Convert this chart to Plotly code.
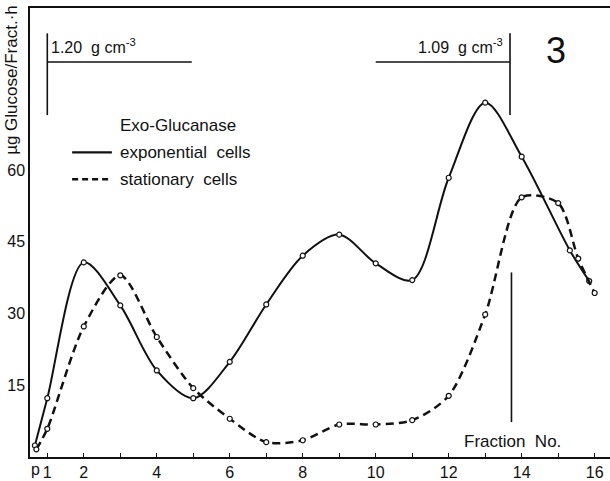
import plotly.graph_objects as go

# Data
exp_x = [0.66, 1, 2, 3, 4, 5, 6, 7, 8, 9, 10, 11, 12, 13, 14, 15.32, 15.85]
exp_y = [2.4, 12.3, 40.7, 31.7, 18.1, 12.3, 19.9, 31.9, 42.1, 46.5, 40.5, 37.0, 58.4, 74.1, 62.8, 43.2, 36.8]

sta_x = [0.7, 1, 2, 3, 4, 5, 6, 7, 8, 9, 10, 11, 12, 13, 14, 15, 15.55, 16]
sta_y = [1.6, 5.9, 27.3, 38.0, 25.1, 14.4, 8.0, 3.1, 3.5, 6.8, 6.8, 7.7, 12.8, 29.8, 54.3, 53.1, 41.5, 34.3]

x_tick_vals = [1, 2, 4, 6, 8, 10, 12, 14, 16]
x_tick_text = ["1", "2", "4", "6", "8", "10", "12", "14", "16"]
y_tick_vals = [15, 30, 45, 60]

FONT = "Liberation Sans"
BLACK = "#111111"

fig = go.Figure()
fig.add_trace(go.Scatter(
    x=exp_x, y=exp_y, mode="lines+markers",
    line=dict(color=BLACK, width=2, shape="spline", smoothing=0.9),
    marker=dict(symbol="circle", size=5, color="white", line=dict(color=BLACK, width=1.2)),
    showlegend=False, name="exponential cells"))
fig.add_trace(go.Scatter(
    x=sta_x, y=sta_y, mode="lines+markers",
    line=dict(color=BLACK, width=2.5, shape="spline", smoothing=0.8, dash="8px,5px"),
    marker=dict(symbol="circle", size=5, color="white", line=dict(color=BLACK, width=1.2)),
    showlegend=False, name="stationary cells"))

line_style = dict(color=BLACK, width=1.6)
shapes = [
    # density markers
    dict(type="line", xref="x", yref="y", x0=1.0, x1=1.0, y0=71.5, y1=88.6, line=line_style),
    dict(type="line", xref="x", yref="y", x0=1.0, x1=4.96, y0=82.6, y1=82.6, line=line_style),
    dict(type="line", xref="x", yref="y", x0=13.68, x1=13.68, y0=71.5, y1=88.6, line=line_style),
    dict(type="line", xref="x", yref="y", x0=10.0, x1=13.68, y0=82.6, y1=82.6, line=line_style),
    dict(type="line", xref="x", yref="y", x0=13.72, x1=13.72, y0=7.3, y1=38.6, line=line_style),
    # legend samples
    dict(type="line", xref="x", yref="y", x0=1.68, x1=2.77, y0=63.7, y1=63.7,
         line=dict(color=BLACK, width=2.2)),
    dict(type="line", xref="x", yref="y", x0=1.68, x1=2.77, y0=58.1, y1=58.1,
         line=dict(color=BLACK, width=2.4, dash="6px,4px")),
]

ann_font = dict(family=FONT, size=16, color=BLACK)
leg_font = dict(family=FONT, size=17, color=BLACK)
annotations = [
    dict(x=1.06, y=86.0, xref="x", yref="y", text="1.20  g cm<sup>-3</sup>", showarrow=False,
         xanchor="left", yanchor="middle", font=ann_font),
    dict(x=13.55, y=86.0, xref="x", yref="y", text="1.09  g cm<sup>-3</sup>", showarrow=False,
         xanchor="right", yanchor="middle", font=ann_font),
    dict(x=14.95, y=85.0, xref="x", yref="y", text="3", showarrow=False,
         xanchor="center", yanchor="middle", font=dict(family=FONT, size=36, color=BLACK)),
    dict(x=2.94, y=69.4, xref="x", yref="y", text="Exo-Glucanase", showarrow=False,
         xanchor="left", yanchor="middle", font=leg_font),
    dict(x=2.94, y=63.7, xref="x", yref="y", text="exponential  cells", showarrow=False,
         xanchor="left", yanchor="middle", font=leg_font),
    dict(x=2.94, y=58.1, xref="x", yref="y", text="stationary  cells", showarrow=False,
         xanchor="left", yanchor="middle", font=leg_font),
    dict(x=1 + (563 - 47.3) / 36.5, y=3.2, xref="x", yref="y", text="Fraction  No.", showarrow=False,
         xanchor="right", yanchor="middle", font=dict(family=FONT, size=17, color=BLACK)),
    dict(x=0.68, y=0, xref="x", yref="paper", text="p", showarrow=False,
         xanchor="center", yanchor="top", yshift=-2, font=dict(family=FONT, size=16, color=BLACK)),
    dict(x=-0.031, y=0.84, xref="paper", yref="paper", text="µg Glucose/Fract.·h", showarrow=False,
         textangle=-90, xanchor="center", yanchor="middle", font=dict(family=FONT, size=17, color=BLACK)),
]

fig.update_layout(
    width=610, height=481,
    margin=dict(l=30, r=0, t=8, b=24),
    paper_bgcolor="white", plot_bgcolor="white",
    shapes=shapes, annotations=annotations,
    font=dict(family=FONT, size=16, color=BLACK),
    xaxis=dict(range=[0.526, 16.42], showgrid=False, zeroline=False,
               showline=True, linecolor=BLACK, linewidth=1.5, mirror=True,
               tickmode="array", tickvals=x_tick_vals, ticktext=x_tick_text,
               ticks="inside", ticklen=4, tickwidth=1.2, tickcolor=BLACK,
               minor=dict(tick0=0, dtick=1, ticks="inside", ticklen=4, tickwidth=1.2, tickcolor=BLACK),
               tickfont=dict(family=FONT, size=16, color=BLACK)),
    yaxis=dict(range=[0, 93.9], showgrid=False, zeroline=False,
               showline=True, linecolor=BLACK, linewidth=1.5,
               tickmode="array", tickvals=y_tick_vals, ticks="",
               tickfont=dict(family=FONT, size=16, color=BLACK)),
)

fig.write_html("out.html", config={"displayModeBar": False},
               post_script="document.body.style.margin='0';document.body.style.overflow='hidden';")
